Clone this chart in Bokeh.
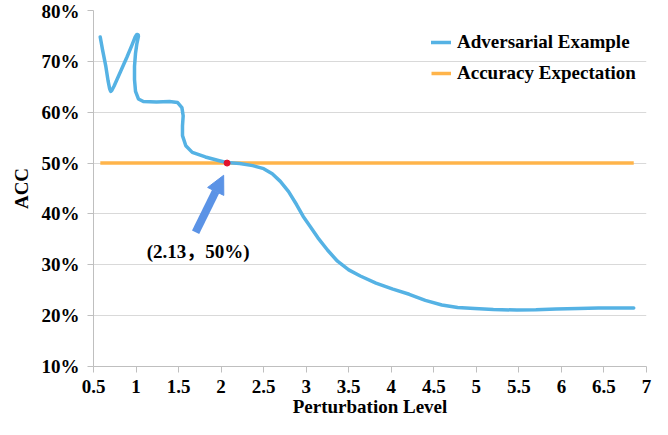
from bokeh.plotting import figure
from bokeh.models import (ColumnDataSource, FixedTicker, PrintfTickFormatter, NumeralTickFormatter,
                          Legend, LegendItem, Arrow, NormalHead, Label, Range1d)
from bokeh.embed import file_html
from bokeh.resources import INLINE

# ---------------- data ----------------
adv_x = [0.579, 0.607, 0.645, 0.672, 0.690, 0.702, 0.715, 0.741, 0.818, 0.895, 0.952, 0.990,
         1.005, 1.017, 1.026, 1.028, 1.010, 0.994, 0.982, 0.982, 0.994, 1.028, 1.086, 1.240,
         1.393, 1.489, 1.539, 1.554, 1.546, 1.546, 1.585, 1.661, 1.815, 1.968, 2.063, 2.218,
         2.371, 2.500, 2.601, 2.696, 2.793, 2.888, 2.965, 3.053, 3.138, 3.250, 3.368, 3.500,
         3.636, 3.820, 4.019, 4.211, 4.400, 4.595, 4.780, 4.979, 5.200, 5.477, 5.700, 5.937,
         6.200, 6.435, 6.650, 6.850]
adv_y = [74.8, 72.2, 69.0, 66.1, 64.6, 64.1, 64.3, 65.1, 68.0, 70.9, 73.2, 74.8,
         75.2, 75.3, 75.2, 74.9, 73.5, 71.6, 69.0, 66.4, 64.1, 62.6, 62.1, 62.0,
         62.1, 61.9, 60.9, 59.3, 57.3, 55.4, 53.4, 52.1, 51.2, 50.5, 50.1, 49.9,
         49.5, 48.9, 47.9, 46.4, 44.4, 41.8, 39.5, 37.4, 35.3, 32.9, 30.7, 29.0,
         27.8, 26.4, 25.2, 24.2, 23.0, 22.1, 21.6, 21.4, 21.2, 21.1, 21.15, 21.3,
         21.4, 21.5, 21.5, 21.5]
exp_x = [0.58, 6.85]
exp_y = [50, 50]
point_x = [2.07]
point_y = [50]
point_label = "(2.13，50%)"
x_ticks = [0.5, 1, 1.5, 2, 2.5, 3, 3.5, 4, 4.5, 5, 5.5, 6, 6.5, 7]
y_ticks = [10, 20, 30, 40, 50, 60, 70, 80]
series_names = ["Adversarial Example", "Accuracy Expectation"]
x_title = "Perturbation Level"
y_title = "ACC"

# ---------------- style ----------------
FONT = "Liberation Serif, Times New Roman, DejaVu Serif, serif"
LABEL_FONT = "Liberation Serif, Noto Sans CJK SC, serif"
FS = "19px"
BLUE = "#55B2E4"
ORANGE = "#FFB44A"
ARROW = "#5B93E6"
RED = "#E3132C"

p = figure(width=652, height=419, output_backend="svg", toolbar_location=None,
           x_range=Range1d(0.5, 7), y_range=Range1d(10, 80),
           min_border_left=93, min_border_right=6, min_border_top=10, min_border_bottom=50)
p.outline_line_color = None
p.background_fill_color = "white"

p.xgrid.grid_line_color = None
p.ygrid.grid_line_color = "#D9D9D9"
p.ygrid.grid_line_width = 1

for ax in (p.xaxis[0], p.yaxis[0]):
    ax.axis_line_color = "#BFBFBF"
    ax.major_tick_line_color = "#BFBFBF"
    ax.major_tick_out = 6
    ax.major_tick_in = 0
    ax.minor_tick_line_color = None
    ax.major_label_text_font = FONT
    ax.major_label_text_font_style = "bold"
    ax.major_label_text_font_size = FS
    ax.major_label_text_color = "black"
    ax.axis_label_text_font = FONT
    ax.axis_label_text_font_style = "bold"
    ax.axis_label_text_font_size = FS
    ax.axis_label_text_color = "black"

p.xaxis.ticker = FixedTicker(ticks=x_ticks)
p.xaxis.formatter = NumeralTickFormatter(format="0.[0]")
p.xaxis.major_label_standoff = 7
p.xaxis.axis_label = x_title
p.xaxis.axis_label_standoff = 0

p.yaxis.ticker = FixedTicker(ticks=y_ticks)
p.yaxis.formatter = PrintfTickFormatter(format="%d%%")
p.yaxis.major_label_standoff = 8
p.yaxis.axis_label = y_title
p.yaxis.axis_label_standoff = 7

src_adv = ColumnDataSource(dict(x=adv_x, y=adv_y))
src_exp = ColumnDataSource(dict(x=exp_x, y=exp_y))

r_exp = p.line("x", "y", source=src_exp, line_color=ORANGE, line_width=3.5)
r_adv = p.line("x", "y", source=src_adv, line_color=BLUE, line_width=3.5,
               line_join="round", line_cap="round")
p.scatter(point_x, point_y, size=6, fill_color=RED, line_color=RED)

# arrow pointing at the intersection
arrow_tail = (1.70, 36.4)
arrow_head = (2.03, 47.6)
p.add_layout(Arrow(x_start=arrow_tail[0], y_start=arrow_tail[1],
                   x_end=arrow_head[0], y_end=arrow_head[1],
                   line_color=ARROW, line_width=8,
                   end=NormalHead(size=18, fill_color=ARROW, line_color=ARROW)))

p.add_layout(Label(x=1.73, y=32.6, text=point_label, text_align="center",
                   text_baseline="middle", text_font=LABEL_FONT, text_font_style="bold",
                   text_font_size=FS, text_color="black"))

legend = Legend(items=[LegendItem(label=series_names[0], renderers=[r_adv]),
                       LegendItem(label=series_names[1], renderers=[r_exp])],
                location=(338, 282))
legend.background_fill_alpha = 0
legend.border_line_color = None
legend.margin = 0
legend.padding = 0
legend.spacing = 9
legend.glyph_width = 20
legend.glyph_height = 20
legend.label_height = 20
legend.label_standoff = 6
legend.label_text_font = FONT
legend.label_text_font_style = "bold"
legend.label_text_font_size = FS
legend.label_text_color = "black"
p.add_layout(legend)

open("out.html", "w").write(file_html(p, INLINE))
